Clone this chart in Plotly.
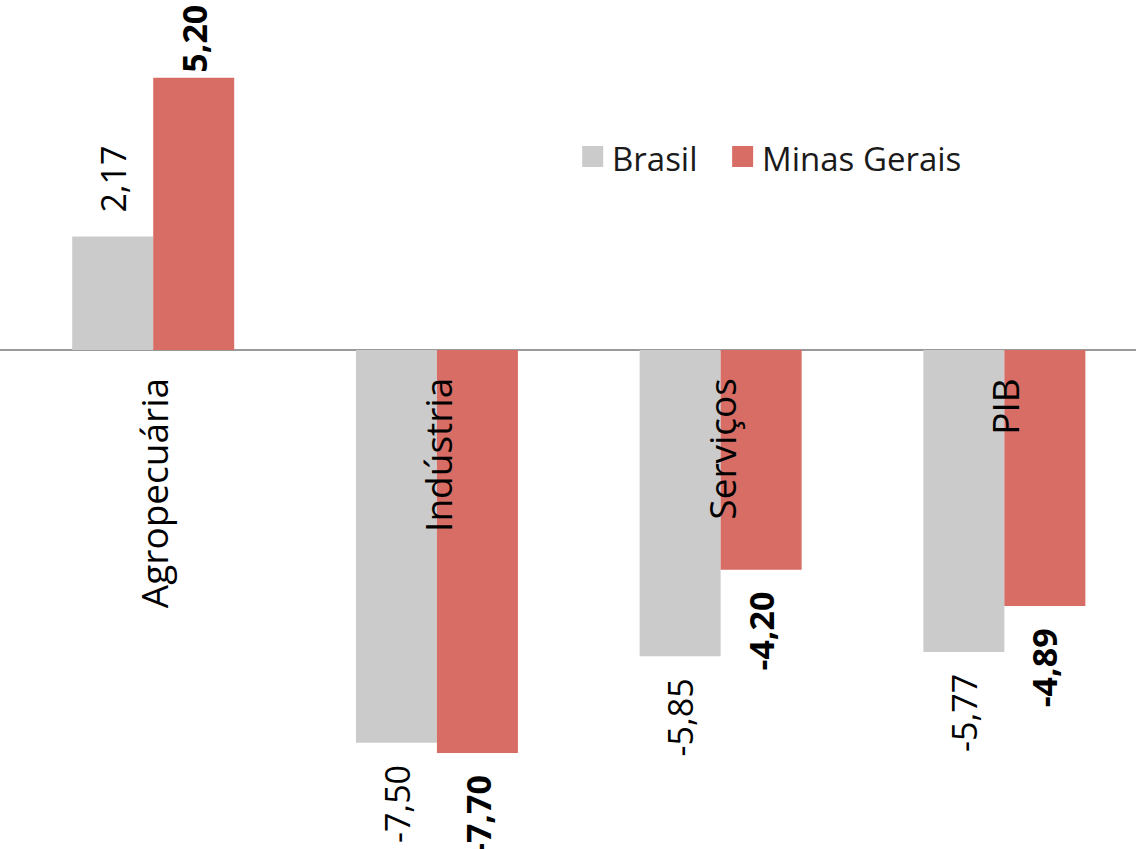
import plotly.graph_objects as go

categories = ["Agropecuária", "Indústria", "Serviços", "PIB"]
brasil = [2.17, -7.50, -5.85, -5.77]
minas = [5.20, -7.70, -4.20, -4.89]
brasil_labels = ["2,17", "-7,50", "-5,85", "-5,77"]
minas_labels = ["5,20", "-7,70", "-4,20", "-4,89"]

W, H = 1136, 849
FONT = "Open Sans"
GRAY = "#CBCBCB"
RED = "#D76D64"
Y_RANGE = [-9.532, 6.686]
X_RANGE = [-0.540, 3.464]
BAR_W = 0.2855

xs = list(range(len(categories)))

fig = go.Figure()
fig.add_trace(go.Bar(x=xs, y=brasil, name="Brasil", marker=dict(color=GRAY, line=dict(width=0)),
                     offset=-BAR_W, width=BAR_W))
fig.add_trace(go.Bar(x=xs, y=minas, name="Minas Gerais", marker=dict(color=RED, line=dict(width=0)),
                     offset=0, width=BAR_W))

px_per_unit = H / (Y_RANGE[1] - Y_RANGE[0])

annotations = []
# category labels
for i, c in enumerate(categories):
    annotations.append(dict(x=i, y=0, text=c, textangle=-90, showarrow=False,
                            xanchor="center", yanchor="top", yshift=-26,
                            font=dict(family=FONT, size=37, color="#000000")))

VAL_SIZE = 34

def value_label(xc, v, txt, bold):
    t = f"<b>{txt}</b>" if bold else txt
    font = dict(family=FONT, size=VAL_SIZE, color="#000000")
    if v >= 0:
        top_px = (Y_RANGE[1] - v) * px_per_unit  # pixels from top to bar end
        label_len = 72
        if top_px - 22 - label_len < 10:
            # label would leave the chart: pin it just inside the top edge
            return dict(x=xc, xref="x", y=1, yref="paper", text=t, textangle=-90,
                        showarrow=False, xanchor="center", yanchor="top", yshift=-3,
                        font=font)
        return dict(x=xc, y=v, text=t, textangle=-90, showarrow=False,
                    xanchor="center", yanchor="bottom", yshift=22, font=font)
    return dict(x=xc, y=v, text=t, textangle=-90, showarrow=False,
                xanchor="center", yanchor="top", yshift=-20, font=font)

for i in xs:
    annotations.append(value_label(i - BAR_W / 2, brasil[i], brasil_labels[i], False))
    annotations.append(value_label(i + BAR_W / 2, minas[i], minas_labels[i], True))

# manual legend
legend_items = [("Brasil", GRAY, 0.5125), ("Minas Gerais", RED, 0.6445)]
shapes = []
for name, col, xp in legend_items:
    shapes.append(dict(type="rect", xref="paper", yref="paper",
                       x0=xp, x1=xp + 21 / W, y0=1 - 167 / H, y1=1 - 146 / H,
                       fillcolor=col, line=dict(width=0)))
    annotations.append(dict(xref="paper", yref="paper", x=xp + 28 / W, y=1 - 158 / H,
                            text=name, showarrow=False, xanchor="left", yanchor="middle",
                            font=dict(family=FONT, size=33, color="#1a1a1a")))

fig.update_layout(
    width=W, height=H,
    margin=dict(l=0, r=0, t=0, b=0),
    paper_bgcolor="white", plot_bgcolor="white",
    showlegend=False,
    barmode="overlay",
    annotations=annotations,
    shapes=shapes,
    xaxis=dict(range=X_RANGE, showticklabels=False, showgrid=False, zeroline=False,
               ticks="", showline=False),
    yaxis=dict(range=Y_RANGE, showticklabels=False, showgrid=False, zeroline=True,
               zerolinecolor="#9a9a9a", zerolinewidth=1.5, ticks="", showline=False),
)
fig.write_html("out.html", config={"displayModeBar": False},
               post_script="document.body.style.margin='0';")
